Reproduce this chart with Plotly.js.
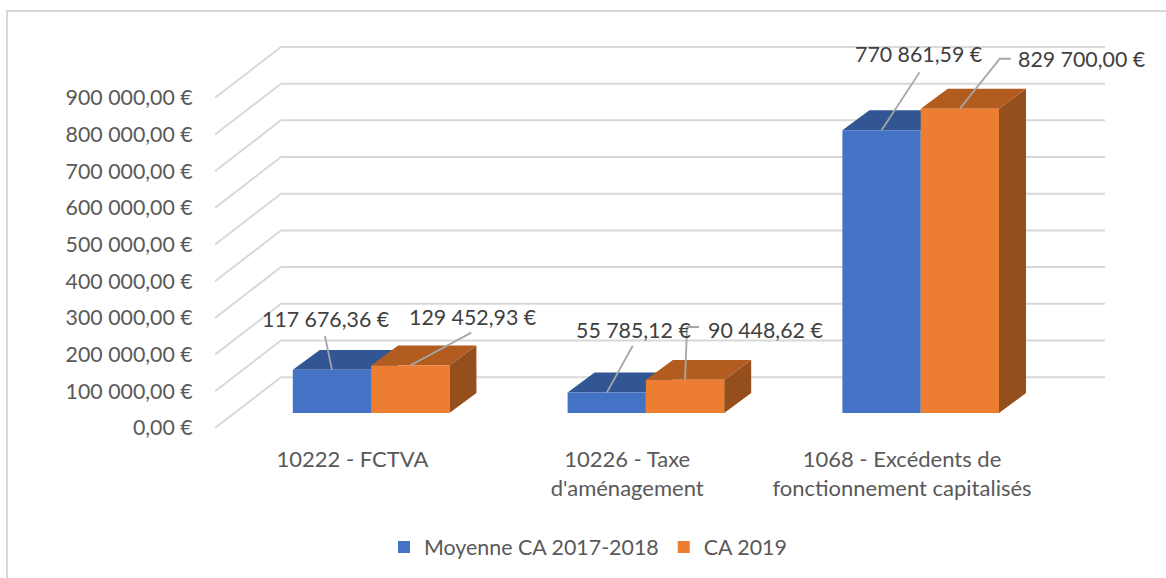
<!DOCTYPE html>
<html><head><meta charset="utf-8">
<script src="https://cdn.plot.ly/plotly-3.0.1.min.js"></script>
<style>html,body{margin:0;padding:0;background:#fff}#c{width:1166px;height:578px}</style>
</head><body><div id="c"></div>
<script>
const categories = ["10222 - FCTVA", "10226 - Taxe<br>d'aménagement", "1068 - Excédents de<br>fonctionnement capitalisés"];
const seriesNames = ["Moyenne CA 2017-2018", "CA 2019"];
const moyenne = [117676.36, 55785.12, 770861.59];
const ca2019 = [129452.93, 90448.62, 829700.00];
const tickValues = [0,100000,200000,300000,400000,500000,600000,700000,800000,900000];
const tickLabels = ["0,00 €","100 000,00 €","200 000,00 €","300 000,00 €","400 000,00 €","500 000,00 €","600 000,00 €","700 000,00 €","800 000,00 €","900 000,00 €"];
const labelsMoyenne = ["117 676,36 €","55 785,12 €","770 861,59 €"];
const labelsCa = ["129 452,93 €","90 448,62 €","829 700,00 €"];

// geometry: pixels per axis unit
const W=1166,H=578, L=215,R=1105,T=30,B=429;
const pxX=274.8, pxY=36.78/100000;
const xMin=-0.5, xMax=xMin+(R-L)/pxX, yMax=(B-T)/pxY;
const dX=p=>p/pxX, dY=p=>p/pxY;
const wallX=dX(66), wallY=dY(51);
const barX=dX(18.7), barBase=dY(15), barW=dX(78.3), boxX=dX(27), boxY=dY(20);
const colors=["#4472C4","#ED7D31"], tops=["#325693","#B25C20"], sides=["#2F5597","#954F1C"];
const series=[moyenne,ca2019], seriesLabels=[labelsMoyenne,labelsCa];

const grid={x:[],y:[]};
tickValues.forEach(v=>{
  grid.x.push(xMin,xMin+wallX,xMin+3+wallX,null);
  grid.y.push(v,v+wallY,v+wallY,null);
});
const traces=[{type:'scatter',mode:'lines',x:grid.x,y:grid.y,line:{color:'#D9D9D9',width:2},showlegend:false,hoverinfo:'skip',zorder:0}];

// leader polylines (pixel offsets from the front-top centre of each bar) and label centres
const leaders=[
 [[[0,0],[-7,-34]], [[0,0],[26,-47]], [[0,0],[38,-58]]],
 [[[0,0],[61,-33]], [[0,0],[2,-53],[14,-53]], [[0,0],[40,-50],[51,-50]]]
];
const labelOff=[
 [[-6,-51],[27,-63],[37,-76]],
 [[63,-49],[80,-50],[122,-49.5]]
];

const font='Lato, Carlito, sans-serif';
const annotations=[];
[0,1].forEach(s=>{
  const left=s===0?-barW:0, z=1+s*3;
  series[s].forEach((v,i)=>{
    const x0=i+barX+left, x1=x0+barW, y1=v+barBase, y0=barBase;
    traces.push({type:'scatter',mode:'lines',fill:'toself',fillcolor:sides[s],line:{width:0,color:sides[s]},
      x:[x1,x1+boxX,x1+boxX,x1,x1],y:[y0,y0+boxY,y1+boxY,y1,y0],showlegend:false,hoverinfo:'skip',zorder:z});
    traces.push({type:'scatter',mode:'lines',fill:'toself',fillcolor:tops[s],line:{width:0,color:tops[s]},
      x:[x0,x0+boxX,x1+boxX,x1,x0],y:[y1,y1+boxY,y1+boxY,y1,y1],showlegend:false,hoverinfo:'skip',zorder:z});
    const cx=(x0+x1)/2;
    annotations.push({x:cx,y:y1,xref:'x',yref:'y',text:seriesLabels[s][i],showarrow:false,
      xshift:labelOff[s][i][0],yshift:-labelOff[s][i][1],font:{family:font,size:21.35,color:'#404040'}});
    traces.push({type:'scatter',mode:'lines',x:leaders[s][i].map(p=>cx+dX(p[0])),y:leaders[s][i].map(p=>y1-dY(p[1])),
      line:{color:'#A6A6A6',width:1.8},showlegend:false,hoverinfo:'skip',zorder:10});
  });
  traces.push({type:'bar',name:seriesNames[s],x:[0,1,2].map(i=>i+barX),y:series[s],base:barBase,width:barW,offset:left,
    marker:{color:colors[s],line:{width:0}},hoverinfo:'x+y',zorder:z+1});
});

const layout={
  width:W,height:H,paper_bgcolor:'#fff',plot_bgcolor:'rgba(0,0,0,0)',
  margin:{l:L,r:W-R,t:T,b:H-B,pad:0},
  barmode:'overlay',showlegend:true,
  legend:{orientation:'h',x:(588-L)/(R-L),xanchor:'center',y:-(547-B)/(B-T),yanchor:'middle',font:{family:font,size:21.4,color:'#595959'},bgcolor:'rgba(0,0,0,0)',traceorder:'normal'},
  xaxis:{range:[xMin,xMax],tickmode:'array',tickvals:[0,1,2],
    ticktext:categories.map(c=>c.split('<br>').map(l=>'<span style="font-size:22px">'+l+'</span>').join('<br>')),
    showgrid:false,zeroline:false,showline:false,ticks:'outside',ticklen:11,tickcolor:'rgba(0,0,0,0)',
    tickfont:{family:font,size:22.3,color:'#595959'},tickangle:0,fixedrange:true},
  yaxis:{range:[0,yMax],tickmode:'array',tickvals:tickValues,ticktext:tickLabels,
    showgrid:false,zeroline:false,showline:false,ticks:'outside',ticklen:17,tickcolor:'rgba(0,0,0,0)',
    tickfont:{family:font,size:21.35,color:'#595959'},fixedrange:true},
  annotations,
  shapes:[{type:'rect',xref:'paper',yref:'paper',layer:'below',
    x0:(7-L)/(R-L),x1:(1185-L)/(R-L),y0:(B-610)/(B-T),y1:(B-11)/(B-T),line:{color:'#D9D9D9',width:2},fillcolor:'rgba(0,0,0,0)'}]
};
Plotly.newPlot('c',traces,layout,{displayModeBar:false,responsive:false});
</script></body></html>
